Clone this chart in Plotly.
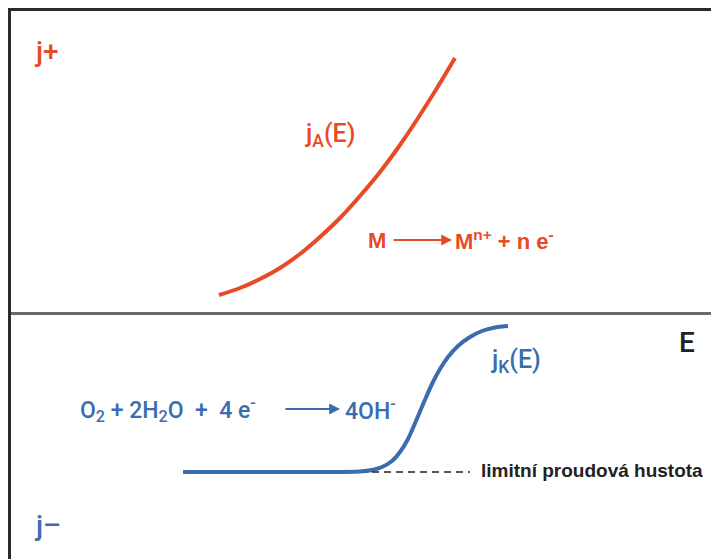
import plotly.graph_objects as go

# Anodic branch j_A(E)  (E, j in arbitrary schematic units)
E_anodic = [219, 240, 260, 280, 300, 320, 340, 360, 380, 400, 420, 437, 455]
j_anodic = [18, 25, 34, 45, 59, 76, 95, 117, 141, 168, 198, 225, 255]

# Cathodic branch j_K(E)
E_cathodic = [183, 250, 320, 360, 372, 382, 392, 400, 408, 416, 424, 432, 440, 448, 458, 470, 482, 495, 508]
j_cathodic = [-159, -159, -159, -158.5, -157, -154, -148, -139, -126, -108, -89, -71, -56, -44, -33, -24, -18, -14.5, -13]

# Limiting current density (dashed)
E_limit = [372, 470]
j_limit = [-159, -159]

RED = "#E84A27"
BLUE = "#3A6DAD"
FONT = "Liberation Sans, Arial"
MED = "Roboto, Liberation Sans, Arial"

fig = go.Figure()
fig.add_trace(go.Scatter(x=E_anodic, y=j_anodic, mode="lines",
                         line=dict(color=RED, width=4, shape="spline"), hoverinfo="skip"))
fig.add_trace(go.Scatter(x=E_cathodic, y=j_cathodic, mode="lines",
                         line=dict(color=BLUE, width=4, shape="spline"), hoverinfo="skip"))
fig.add_trace(go.Scatter(x=E_limit, y=j_limit, mode="lines",
                         line=dict(color="#222222", width=1.5, dash="7px,5px"), hoverinfo="skip"))

def txt(x, y, s, color, size, anchor="left", bold=False, family=FONT, weight="normal"):
    if bold:
        s = "<b>" + s + "</b>"
    fig.add_annotation(x=x, y=y, text=s, showarrow=False, xanchor=anchor, yanchor="middle",
                       font=dict(color=color, size=size, family=family, weight=weight))

def arrow(x0, x1, y, color):
    fig.add_annotation(x=x1, y=y, ax=x0, ay=y, axref="x", ayref="y", xref="x", yref="y",
                       text="", showarrow=True, arrowhead=2, arrowsize=1.2, arrowwidth=1.8,
                       arrowcolor=color)

txt(32, 262, "j+", RED, 28, family=MED, weight=500)
txt(302, 178, "j<sub>A</sub>(E)", RED, 25, family=MED, weight=500)
txt(366, 73, "M", RED, 22, bold=True)
arrow(392, 452, 73, RED)
txt(453, 73, "M<sup>n+</sup> + n e<sup>-</sup>", RED, 22, bold=True)

txt(677, -29, "E", "#222222", 28, family=MED, weight=500)
txt(488, -48, "j<sub>K</sub>(E)", BLUE, 25, family=MED, weight=500)
txt(78, -96, "O<sub>2</sub> + 2H<sub>2</sub>O  +  4 e<sup>-</sup>", BLUE, 23, family=MED, weight=500)
arrow(284, 340, -96, BLUE)
txt(343, -96, "4OH<sup>-</sup>", BLUE, 23, family=MED, weight=500)
txt(479, -157, "<b>limitní proudová hustota</b>", "#222222", 19)
txt(32, -212, "j–", BLUE, 28, family=MED, weight=500)

fig.update_layout(
    width=711, height=559,
    margin=dict(l=11, r=0, t=11, b=0),
    paper_bgcolor="white", plot_bgcolor="white",
    showlegend=False,
    xaxis=dict(range=[11, 711], showgrid=False, zeroline=False, showticklabels=False,
               ticks="", showline=True, side="top", linecolor="#2a2a2a", linewidth=3),
    yaxis=dict(range=[-246, 302], showgrid=False, zeroline=True, zerolinecolor="#6a6a6a",
               zerolinewidth=2.5, showticklabels=False, ticks="", showline=True,
               linecolor="#2a2a2a", linewidth=3),
)

fig.write_html("out.html")
